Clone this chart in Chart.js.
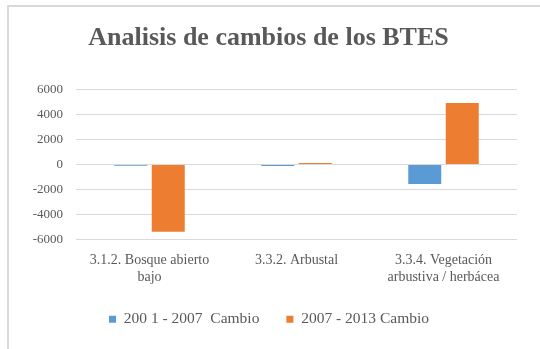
<!DOCTYPE html>
<html>
<head>
<meta charset="utf-8">
<script src="https://cdn.jsdelivr.net/npm/chart.js@4/dist/chart.umd.min.js"></script>
<style>
    html, body { margin: 0; padding: 0; background: #fff; }
    #frame {
        position: absolute;
        left: 7px;
        top: 5px;
        width: 533px;
        height: 344px;
        border-left: 2px solid #d9d9d9;
        border-top: 2px solid #d9d9d9;
    }
    #chart { display: block; }
</style>
</head>
<body>
<div id="frame"><canvas id="chart" width="531" height="342"></canvas></div>
<script>
const categories = [
    ["3.1.2. Bosque abierto", "bajo"],
    ["3.3.2. Arbustal"],
    ["3.3.4. Vegetación", "arbustiva / herbácea"]
];
const seriesNames = ["200 1 - 2007  Cambio", "2007 - 2013 Cambio"];
const cambio2001 = [-100, -120, -1550];
const cambio2007 = [-5350, 120, 4900];
const yTicks = [-6000, -4000, -2000, 0, 2000, 4000, 6000];

const textColor = "#595959";
const gridColor = "#d9d9d9";
const serif = "'Liberation Serif', 'Times New Roman', serif";

Chart.defaults.font.family = serif;
Chart.defaults.color = textColor;

// title and legend are centred over the whole frame, not just the padded layout box
const centreBlocks = {
    id: "centreBlocks",
    afterLayout(chart) {
        if (chart.titleBlock) chart.titleBlock.right += 11;
        if (chart.legend) chart.legend.right += 12;
    }
};

const ctx = document.getElementById("chart");
new Chart(ctx, {
    type: "bar",
    data: {
        labels: categories,
        datasets: [{
            label: seriesNames[0],
            data: cambio2001,
            backgroundColor: "#5b9bd5",
            categoryPercentage: 0.51,
            barPercentage: 0.88
        }, {
            label: seriesNames[1],
            data: cambio2007,
            backgroundColor: "#ed7d31",
            categoryPercentage: 0.51,
            barPercentage: 0.88
        }]
    },
    plugins: [centreBlocks],
    options: {
        responsive: false,
        animation: false,
        layout: {
            padding: { left: 0, right: 23, top: 0, bottom: 12 }
        },
        plugins: {
            title: {
                display: true,
                text: "Analisis de cambios de los BTES",
                color: textColor,
                font: { size: 26, weight: "bold", family: serif },
                padding: { top: 16, bottom: 35 }
            },
            legend: {
                position: "bottom",
                labels: {
                    boxWidth: 7,
                    boxHeight: 7,
                    padding: 27,
                    color: textColor,
                    font: { size: 15.5, family: serif }
                }
            },
            tooltip: { enabled: false }
        },
        scales: {
            x: {
                grid: { display: false },
                border: { display: false },
                afterFit: (axis) => {
                    axis.height -= 5;
                },
                ticks: {
                    maxRotation: 0,
                    autoSkip: false,
                    padding: 4,
                    color: textColor,
                    font: { size: 14, family: serif, lineHeight: 1.2 }
                }
            },
            y: {
                min: -6000,
                max: 6000,
                afterBuildTicks: (axis) => {
                    axis.ticks = yTicks.map(v => ({ value: v }));
                },
                afterFit: (axis) => {
                    axis.width = 67;
                },
                grid: {
                    color: gridColor,
                    lineWidth: 1,
                    drawTicks: false
                },
                border: { display: false },
                ticks: {
                    padding: 13,
                    color: textColor,
                    font: { size: 13, family: serif },
                    callback: (value) => String(value)
                }
            }
        }
    }
});
</script>
</body>
</html>
